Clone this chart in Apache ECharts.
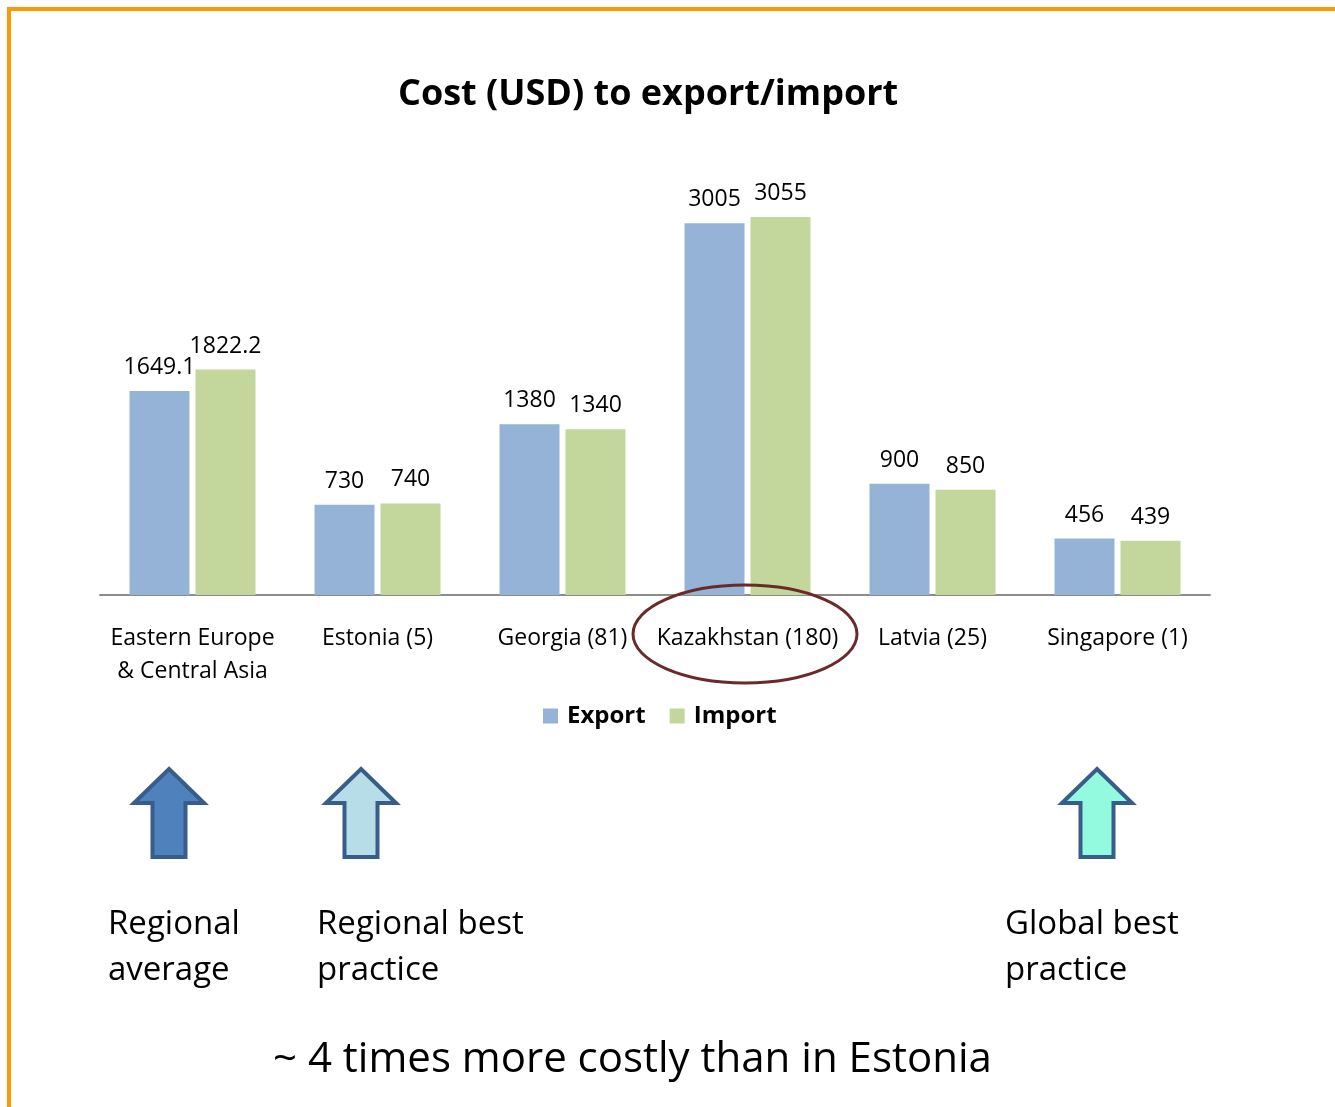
<!DOCTYPE html>
<html>
<head>
<meta charset="utf-8">
<script src="https://cdn.jsdelivr.net/npm/echarts@6/dist/echarts.min.js"></script>
<style>
  html, body { margin: 0; padding: 0; background: #fff; }
  #chart { width: 1335px; height: 1107px; }
</style>
</head>
<body>
<div id="chart"></div>
<script>
// data
var categories = ["Eastern Europe\n& Central Asia", "Estonia (5)", "Georgia (81)", "Kazakhstan (180)", "Latvia (25)", "Singapore (1)"];
var exportCost = [1649.1, 730, 1380, 3005, 900, 456];
var importCost = [1822.2, 740, 1340, 3055, 850, 439];

var FONT = "'Open Sans', 'Noto Sans', sans-serif";

// up arrow outline, tip at (cx, top)
function arrowPoints(cx, top, headHalf, shaftHalf, headH, bottom) {
  return [
    [cx, top],
    [cx + headHalf, top + headH],
    [cx + shaftHalf, top + headH],
    [cx + shaftHalf, bottom],
    [cx - shaftHalf, bottom],
    [cx - shaftHalf, top + headH],
    [cx - headHalf, top + headH]
  ];
}

function arrow(cx, fill) {
  return {
    type: "polygon",
    shape: { points: arrowPoints(cx, 769, 35, 16.5, 34, 857) },
    style: { fill: fill, stroke: "#385D8A", lineWidth: 4, lineJoin: "miter" }
  };
}

function note(x, y, text, size) {
  return {
    type: "text",
    left: x,
    top: y,
    style: { text: text, fill: "#000", font: size + "px " + FONT, lineHeight: 46 }
  };
}

var barLabel = { show: true, position: "top", distance: 12, fontFamily: FONT, fontSize: 23, color: "#000" };

var chart = echarts.init(document.getElementById("chart"));
chart.setOption({
  backgroundColor: "#fff",
  animation: false,
  title: {
    text: "Cost (USD) to export/import",
    left: 393,
    top: 72,
    textStyle: { fontFamily: FONT, fontWeight: "bold", fontSize: 36, color: "#000" }
  },
  legend: {
    data: ["Export", "Import"],
    top: 704,
    left: 543,
    padding: 0,
    icon: "rect",
    itemWidth: 15,
    itemHeight: 15,
    itemGap: 24,
    textStyle: { fontFamily: FONT, fontWeight: "bold", fontSize: 24, color: "#000", padding: [0, 0, 0, 4] }
  },
  grid: { left: 100, right: 125, top: 162, bottom: 512 },
  xAxis: {
    type: "category",
    data: categories,
    axisLine: { lineStyle: { color: "#8C8C8C", width: 2 } },
    axisTick: { show: false },
    axisLabel: { fontFamily: FONT, fontSize: 23, color: "#000", lineHeight: 33, margin: 27, interval: 0 }
  },
  yAxis: {
    type: "value",
    min: 0,
    max: 3500,
    show: false
  },
  series: [
    {
      name: "Export",
      type: "bar",
      data: exportCost,
      barWidth: 60,
      barGap: "10%",
      itemStyle: { color: "#95B3D7" },
      label: barLabel
    },
    {
      name: "Import",
      type: "bar",
      data: importCost,
      barWidth: 60,
      itemStyle: { color: "#C3D69B" },
      label: barLabel
    }
  ],
  graphic: [
    // orange frame
    { type: "rect", shape: { x: 7, y: 7, width: 1328, height: 4 }, style: { fill: "#FF9900" } },
    { type: "rect", shape: { x: 7, y: 7, width: 4, height: 1100 }, style: { fill: "#FF9900" } },
    // highlight ring, drawn over the bars
    {
      type: "ellipse",
      z: 100,
      shape: { cx: 745, cy: 634, rx: 112, ry: 49 },
      style: { fill: "none", stroke: "#6B2A2A", lineWidth: 3 }
    },
    arrow(169, "#4F81BD"),
    arrow(361, "#B7DEE8"),
    arrow(1097, "#94FADF"),
    note(108, 902, "Regional\naverage", 33),
    note(317, 902, "Regional best\npractice", 33),
    note(1005, 902, "Global best\npractice", 33),
    {
      type: "text",
      left: 273,
      top: 1039,
      style: { text: "~ 4 times more costly than in Estonia", fill: "#000", font: "42px " + FONT }
    }
  ]
});
</script>
</body>
</html>
